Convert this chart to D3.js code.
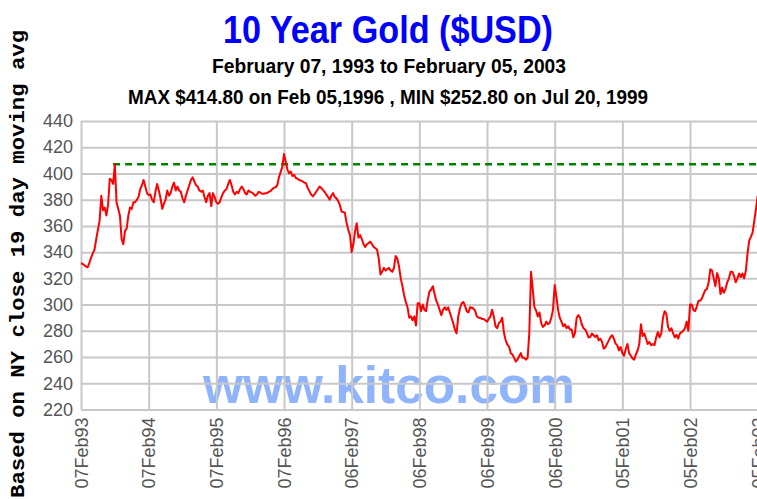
<!DOCTYPE html>
<html>
<head>
<meta charset="utf-8">
<script src="https://cdn.jsdelivr.net/npm/d3@7"></script>
<style>
  body { margin: 0; background: #fff; }
  svg { display: block; }
</style>
</head>
<body>
<div id="chart"></div>
<script>
// tick dates / labels on the x axis (one per year)
const tickDates = ["1993-02-07", "1994-02-07", "1995-02-07", "1996-02-07", "1997-02-06",
  "1998-02-06", "1999-02-06", "2000-02-06", "2001-02-05", "2002-02-05", "2003-02-05"];
const tickLabels = ["07Feb93", "07Feb94", "07Feb95", "07Feb96", "06Feb97",
  "06Feb98", "06Feb99", "06Feb00", "05Feb01", "05Feb02", "05Feb03"];
const yTicks = [220, 240, 260, 280, 300, 320, 340, 360, 380, 400, 420, 440];

// 19 day moving average, 40 readings per year
const gold1993 = [331.5, 331, 330, 329, 328.5, 332, 336, 339, 342, 350, 357, 364, 383, 372, 374, 368, 376, 396, 395, 392,
  407, 378, 373, 368, 350, 346, 356, 358, 368, 374, 373, 378, 378, 380, 382, 388, 391, 395, 390, 385];
const gold1994 = [383.5, 384, 380, 378, 386, 392, 387, 381, 373, 377, 380, 387, 383, 385, 390, 393, 387, 390, 387, 386,
  381, 378, 383, 387, 391, 395, 397, 394, 391, 390, 387, 386, 387, 382, 378, 383, 385, 375, 385, 382];
const gold1995 = [378, 377, 378, 382, 385, 387, 388, 392, 395, 391, 386, 384, 386, 385, 388, 390, 388, 385, 384, 387,
  386, 385.5, 384.5, 383, 384, 386, 385.5, 384.5, 384.5, 385, 385, 386, 386.5, 388, 389, 389.5, 391, 397, 401, 405];
const gold1996 = [414.8, 409, 403, 400, 401.5, 398, 399, 396.5, 396, 395, 394.5, 394, 393, 392.5, 389, 386.5, 384, 382.5, 384, 386,
  388, 390, 389, 387.5, 386, 384, 382, 380, 383, 385, 382, 381, 379, 376, 371, 370.5, 370, 362, 357, 353];
const gold1997 = [340, 346, 356, 362, 351, 353, 350, 346, 344, 346, 347, 348, 346, 344, 343, 342, 335, 323, 325, 328,
  326, 327, 328, 326, 325, 328, 337, 335, 329, 320, 314, 307, 302, 298, 290, 291, 288, 291, 284, 301];
const gold1998 = [301, 295, 300, 296, 295, 304, 310, 311.5, 314, 308, 303, 300, 296, 292, 296, 298, 296, 298, 294, 290,
  286, 281, 278, 291, 297, 301, 302, 299, 295, 294, 298, 297.6, 297, 295, 291, 290, 290, 289, 289, 288];
const gold1999 = [287, 289, 291, 296, 291, 283.5, 282, 286, 287, 290, 278.5, 273, 269.5, 268, 263, 262, 259.4, 256.5, 258, 260.6,
  263, 259.4, 259.4, 258, 259.4, 278.5, 325, 312, 298, 295.5, 291, 294, 286, 283, 284, 287, 285, 286, 290, 296];
const gold2000 = [315, 306, 296, 290, 287, 283.5, 285, 282, 283.5, 281, 281, 275, 278.5, 290, 292, 290, 285, 282, 281, 278.5,
  275, 275.3, 277.9, 276.6, 275.3, 276.6, 272.7, 274, 271.5, 266.4, 267.6, 270.2, 272.7, 275.3, 276.6, 274, 270.2, 268.9, 265.1, 267.6];
const gold2001 = [263, 261, 266, 270, 263, 261, 259, 258, 262, 265, 270, 285, 276, 278, 274, 270, 271.5, 269, 270, 269,
  275, 279, 275, 278, 290, 295, 293, 283, 280, 282, 278, 275, 277, 274, 278, 279, 280, 282, 287, 280];
const gold2002 = [300, 300, 296, 295, 298.5, 303, 303, 304.5, 308, 311, 312, 317, 327, 326, 320, 314, 324, 320, 308, 313,
  309, 312, 317, 320, 325, 325, 322, 317, 320, 323.7, 321, 323.7, 320, 326, 339, 349, 351.6, 355, 364, 373];
const lastAvg = 383; // 05Feb03
const years = [gold1993, gold1994, gold1995, gold1996, gold1997, gold1998, gold1999, gold2000, gold2001, gold2002];

const resistanceLevel = 407;
const resistanceStart = "1993-07-30";

const parse = d3.utcParse("%Y-%m-%d");
const ticks = tickDates.map(parse);

// spread each year's readings evenly between its two tick dates
const series = [];
years.forEach((vals, i) => {
  const t0 = +ticks[i], t1 = +ticks[i + 1];
  vals.forEach((v, j) => series.push({ date: new Date(t0 + (t1 - t0) * j / vals.length), value: v }));
});
series.push({ date: ticks[10], value: lastAvg });

const W = 757, H = 499;
const plot = { left: 81, right: 757.7, top: 121, bottom: 409.5 };

const svg = d3.select("#chart").append("svg")
  .attr("width", W)
  .attr("height", H);

const x = d3.scaleUtc().domain([ticks[0], ticks[10]]).range([plot.left, plot.right]);
const y = d3.scaleLinear().domain([220, 440]).range([plot.bottom, plot.top]);

// titles
svg.append("text")
  .attr("x", 388).attr("y", 43)
  .attr("text-anchor", "middle")
  .attr("textLength", 330).attr("lengthAdjust", "spacingAndGlyphs")
  .style("font", "bold 39px 'Liberation Sans', Arial, sans-serif")
  .style("fill", "#0000ff")
  .text("10 Year Gold ($USD)");

svg.append("text")
  .attr("x", 389).attr("y", 73)
  .attr("text-anchor", "middle")
  .attr("textLength", 354).attr("lengthAdjust", "spacingAndGlyphs")
  .style("font", "bold 20px 'Liberation Sans', Arial, sans-serif")
  .style("fill", "#000")
  .text("February 07, 1993 to February 05, 2003");

svg.append("text")
  .attr("x", 388).attr("y", 104)
  .attr("text-anchor", "middle")
  .attr("textLength", 520).attr("lengthAdjust", "spacingAndGlyphs")
  .style("font", "bold 20px 'Liberation Sans', Arial, sans-serif")
  .style("fill", "#000")
  .text("MAX $414.80 on Feb 05,1996 , MIN $252.80 on Jul 20, 1999");

// y axis title
svg.append("text")
  .attr("transform", "translate(24,264) rotate(-90)")
  .attr("text-anchor", "middle")
  .attr("textLength", 468).attr("lengthAdjust", "spacingAndGlyphs")
  .style("font", "bold 21px 'Liberation Mono', 'DejaVu Sans Mono', monospace")
  .style("fill", "#000")
  .text("Based on NY close 19 day moving avg");

// watermark (under the grid)
svg.append("text")
  .attr("x", 389).attr("y", 403)
  .attr("text-anchor", "middle")
  .attr("textLength", 372).attr("lengthAdjust", "spacingAndGlyphs")
  .style("font", "bold 52px 'Liberation Sans', Arial, sans-serif")
  .style("fill", "#8fb4fb")
  .text("www.kitco.com");

// grid + axes
const yAxis = svg.append("g")
  .attr("transform", `translate(${plot.left},0)`)
  .call(d3.axisLeft(y).tickValues(yTicks).tickSize(-(plot.right - plot.left)).tickPadding(8).tickFormat(d3.format("d")));

const xAxis = svg.append("g")
  .attr("transform", `translate(0,${plot.bottom})`)
  .call(d3.axisBottom(x).tickValues(ticks).tickSize(-(plot.bottom - plot.top)).tickFormat((d, i) => tickLabels[i]));

[yAxis, xAxis].forEach(g => {
  g.select(".domain").remove();
  g.selectAll(".tick line").attr("stroke", "#c8c8c8").attr("stroke-width", 2);
  g.selectAll(".tick text")
    .style("font", "18px 'Liberation Sans', Arial, sans-serif")
    .style("fill", "#555");
});

xAxis.selectAll(".tick text")
  .attr("transform", "rotate(-90)")
  .attr("text-anchor", "end")
  .attr("x", -8).attr("y", 0)
  .attr("dy", "0.35em");

// resistance line
svg.append("line")
  .attr("x1", x(parse(resistanceStart))).attr("x2", W)
  .attr("y1", y(resistanceLevel)).attr("y2", y(resistanceLevel))
  .attr("stroke", "#008000")
  .attr("stroke-width", 2.5)
  .attr("stroke-dasharray", "7,5");

// moving average
const line = d3.line()
  .x(d => x(d.date))
  .y(d => y(d.value));

svg.append("path")
  .datum(series)
  .attr("fill", "none")
  .attr("stroke", "#ff0000")
  .attr("stroke-width", 2)
  .attr("stroke-linejoin", "round")
  .attr("d", line);
</script>
</body>
</html>
